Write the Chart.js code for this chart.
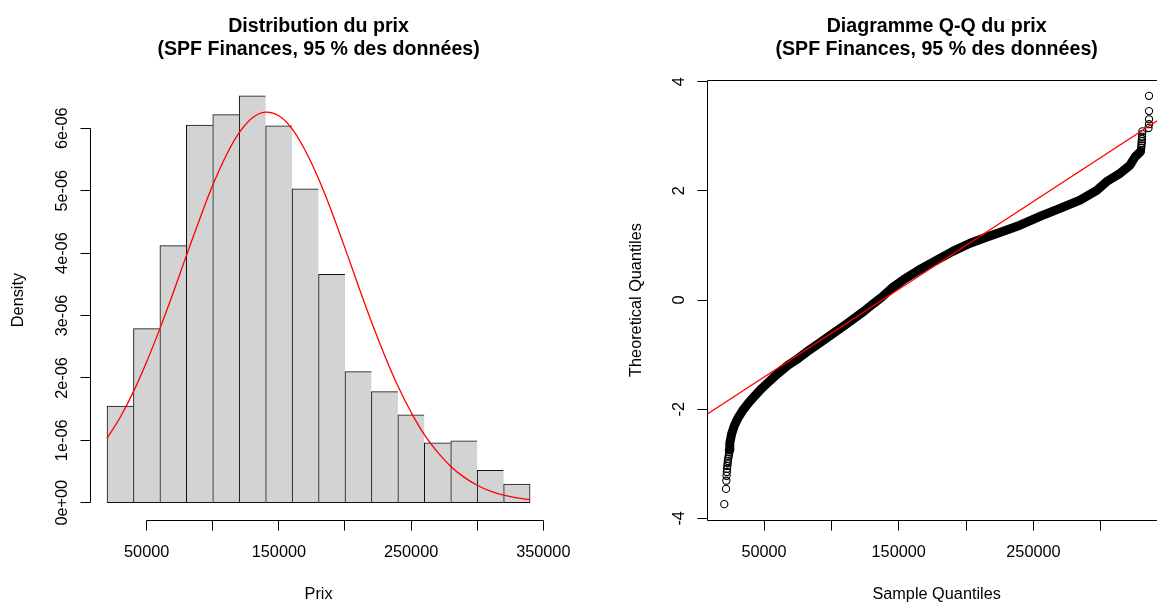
<!DOCTYPE html>
<html><head><meta charset="utf-8">
<script src="https://cdn.jsdelivr.net/npm/chart.js@4.4.0/dist/chart.umd.min.js"></script>
<style>
html,body{margin:0;padding:0;background:#fff;overflow:hidden;width:1157px;height:604px;position:relative;}
canvas{position:absolute;top:0;}
#c1{left:0px;} #c2{left:578px;}
</style></head><body>
<canvas id="c1" width="578" height="604"></canvas>
<canvas id="c2" width="600" height="604"></canvas>
<script>
// ---------- Histogram data ----------
const histBreaks = [20000,40000,60000,80000,100000,120000,140000,160000,180000,200000,220000,240000,260000,280000,300000,320000,340000];
const histDensity = [1.55e-6,2.79e-6,4.12e-6,6.05e-6,6.22e-6,6.52e-6,6.04e-6,5.03e-6,3.66e-6,2.10e-6,1.78e-6,1.41e-6,0.96e-6,0.99e-6,0.52e-6,0.30e-6];
const curveX = [20000,30000,40000,50000,60000,70000,80000,90000,100000,110000,120000,130000,140000,150000,160000,170000,180000,190000,200000,210000,220000,230000,240000,250000,260000,270000,280000,290000,300000,310000,320000,330000,340000];
const curveY = [1.03e-6,1.37e-6,1.78e-6,2.26e-6,2.79e-6,3.36e-6,3.96e-6,4.54e-6,5.09e-6,5.56e-6,5.93e-6,6.17e-6,6.26e-6,6.20e-6,5.99e-6,5.64e-6,5.19e-6,4.66e-6,4.08e-6,3.48e-6,2.90e-6,2.36e-6,1.87e-6,1.45e-6,1.09e-6,0.81e-6,0.58e-6,0.41e-6,0.28e-6,0.185e-6,0.12e-6,0.077e-6,0.048e-6];
const histXTicks = [50000,100000,150000,200000,250000,300000,350000];
const histXLabels = ["50000","","150000","","250000","","350000"];
const histYTicks = [0,1e-6,2e-6,3e-6,4e-6,5e-6,6e-6];
const histYLabels = ["0e+00","1e-06","2e-06","3e-06","4e-06","5e-06","6e-06"];

// ---------- Q-Q data ----------
const bandX = [24200,24600,26000,28000,30500,34000,38300,43000,48300,54400,60600,67500,75400,84000,92800,101500,110100,118000,125000,131000,137300,145000,153400,165000,178200,190000,202900,215000,227600,240000,254900,269700,284600,297000,304400,314300,321700,325400,329500];
const bandY = [-2.75,-2.62,-2.45,-2.30,-2.17,-2.03,-1.89,-1.76,-1.62,-1.48,-1.34,-1.20,-1.07,-0.91,-0.76,-0.61,-0.46,-0.32,-0.19,-0.07,0.05,0.22,0.37,0.55,0.73,0.89,1.04,1.15,1.26,1.37,1.53,1.68,1.83,2.01,2.17,2.32,2.47,2.62,2.72];
const tailX = [20500,21800,22000,22200,22400,22600,22800,23000,23200,23400,23700,24000,24200,
               335800,335800,335800,335800,335400,330900,330700,330600,330500,330400,330300,330200,330000,329800];
const tailY = [-3.74,-3.46,-3.31,-3.22,-3.15,-3.09,-3.04,-2.99,-2.95,-2.91,-2.87,-2.83,-2.79,
               3.74,3.46,3.31,3.22,3.15,3.09,3.04,2.99,2.95,2.91,2.87,2.83,2.79,2.75];
const qqLineX = [0,360000];
const qqLineY = [-2.217,3.575];
const qqXTicks = [50000,100000,150000,200000,250000,300000];
const qqXLabels = ["50000","","150000","","250000",""];
const qqYTicks = [-4,-2,0,2,4];
const qqYLabels = ["-4","-2","0","2","4"];

const FONT = '"Liberation Sans", Arial, Helvetica, sans-serif';
const rAxes = {
  id:'rAxes',
  afterDraw(chart, args, o){
    const ctx = chart.ctx, a = chart.chartArea, xs = chart.scales.x, ys = chart.scales.y;
    const r = v => Math.round(v - 0.5) + 0.5;
    ctx.save();
    ctx.strokeStyle = '#000'; ctx.fillStyle = '#000'; ctx.lineWidth = 1;
    const TL = 10;
    const xp = o.xTicks.map(v => xs.getPixelForValue(v));
    const yp = o.yTicks.map(v => ys.getPixelForValue(v));
    const yb = r(a.bottom), xl = r(a.left);
    ctx.beginPath();
    if (o.box) {
      ctx.rect(xl, r(a.top), r(a.right) - xl, yb - r(a.top));
    } else {
      ctx.moveTo(r(xp[0]), yb); ctx.lineTo(r(xp[xp.length-1]), yb);
      ctx.moveTo(xl, r(yp[0])); ctx.lineTo(xl, r(yp[yp.length-1]));
    }
    xp.forEach(p => { ctx.moveTo(r(p), yb); ctx.lineTo(r(p), yb + TL); });
    yp.forEach(p => { ctx.moveTo(xl, r(p)); ctx.lineTo(xl - TL, r(p)); });
    ctx.stroke();
    ctx.font = '16.3px ' + FONT;
    ctx.textAlign = 'center'; ctx.textBaseline = 'alphabetic';
    o.xLabels.forEach((t, i) => { if (t) ctx.fillText(t, xp[i], a.bottom + 37); });
    o.yLabels.forEach((t, i) => {
      if (t) { ctx.save(); ctx.translate(a.left - 23.4, yp[i]); ctx.rotate(-Math.PI/2); ctx.fillText(t, 0, 0); ctx.restore(); }
    });
    const cx = (a.left + a.right) / 2;
    ctx.fillText(o.xTitle, cx, a.bottom + 78.5);
    ctx.save(); ctx.translate(a.left - 66.7, (a.top + a.bottom) / 2); ctx.rotate(-Math.PI/2); ctx.fillText(o.yTitle, 0, 0); ctx.restore();
    ctx.font = 'bold 19.6px ' + FONT;
    ctx.fillText(o.title[0], cx, 32);
    ctx.fillText(o.title[1], cx, 55.3);
    ctx.restore();
  }
};

// ---------- Histogram ----------
const binCenters = histDensity.map((d, i) => (histBreaks[i] + histBreaks[i+1]) / 2);
new Chart(document.getElementById('c1'), {
  type: 'bar',
  data: { datasets: [
    { type:'line', data: curveX.map((x, i) => ({x, y: curveY[i]})), borderColor:'#ff0000', borderWidth:1.3, pointRadius:0, tension:0.4, fill:false },
    { type:'bar', data: binCenters.map((x, i) => ({x, y: histDensity[i]})), backgroundColor:'#d3d3d3', borderColor:'#111111',
      borderWidth: c => ({top:1, left:1, bottom:1, right: c.dataIndex === histDensity.length - 1 ? 1 : 0}),
      borderSkipped:false, barPercentage:1, categoryPercentage:1 }
  ]},
  options: {
    responsive:false, animation:false, events:[],
    layout: { padding: { left:90.1, right:31, top:80, bottom:84 } },
    plugins: { legend:{display:false}, tooltip:{enabled:false},
      rAxes: { xTicks:histXTicks, xLabels:histXLabels, yTicks:histYTicks, yLabels:histYLabels, box:false,
               xTitle:'Prix', yTitle:'Density', title:['Distribution du prix','(SPF Finances, 95 % des données)'] } },
    scales: {
      x: { type:'linear', min:7200, max:352800, display:false, offset:false, ticks:{stepSize:100000} },
      y: { type:'linear', min:-0.277e-6, max:6.774e-6, display:false }
    }
  },
  plugins: [rAxes]
});

// ---------- Q-Q ----------
new Chart(document.getElementById('c2'), {
  type: 'scatter',
  data: { datasets: [
    { data: qqLineX.map((x, i) => ({x, y: qqLineY[i]})), showLine:true, borderColor:'#ff0000', borderWidth:1.3, pointRadius:0 },
    { data: tailX.map((x, i) => ({x, y: tailY[i]})), showLine:false, pointRadius:3.6, pointBorderWidth:1.1,
      pointBorderColor:'#000', pointBackgroundColor:'rgba(0,0,0,0)', pointStyle:'circle' },
    { data: bandX.map((x, i) => ({x, y: bandY[i]})), showLine:true, borderColor:'#000', borderWidth:9, pointRadius:0,
      borderCapStyle:'round', borderJoinStyle:'round', tension:0 }
  ]},
  options: {
    responsive:false, animation:false, events:[],
    layout: { padding: { left:129.3, right:12, top:80, bottom:84 } },
    plugins: { legend:{display:false}, tooltip:{enabled:false},
      rAxes: { xTicks:qqXTicks, xLabels:qqXLabels, yTicks:qqYTicks, yLabels:qqYLabels, box:true,
               xTitle:'Sample Quantiles', yTitle:'Theoretical Quantiles', title:['Diagramme Q-Q du prix','(SPF Finances, 95 % des données)'] } },
    scales: {
      x: { type:'linear', min:7900, max:348400, display:false },
      y: { type:'linear', min:-4.03, max:4.03, display:false }
    }
  },
  plugins: [rAxes]
});
</script>
</body></html>
